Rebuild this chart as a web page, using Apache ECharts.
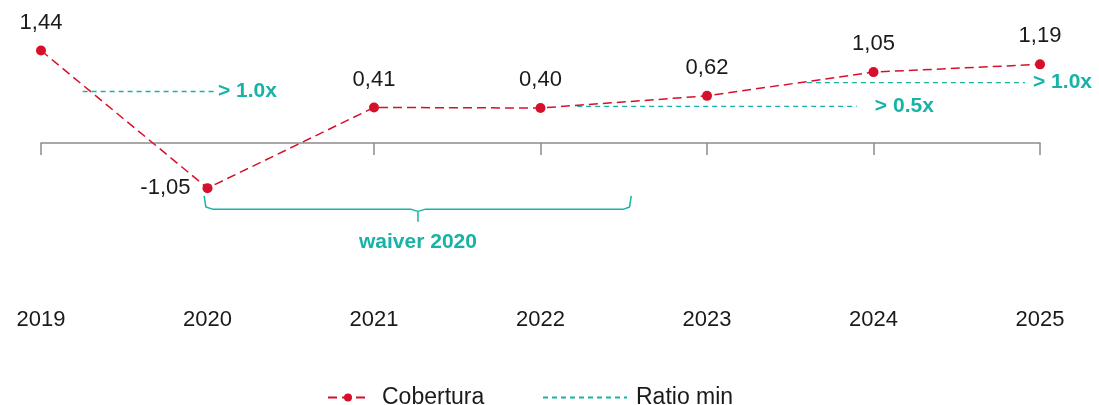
<!DOCTYPE html>
<html>
<head>
<meta charset="utf-8">
<script src="https://cdn.jsdelivr.net/npm/echarts@6/dist/echarts.min.js"></script>
<style>
  html, body { margin: 0; padding: 0; background: #fff; }
  #chart { width: 1099px; height: 405px; }
</style>
</head>
<body>
<div id="chart"></div>
<script>
// Años y cobertura
const years = ["2019", "2020", "2021", "2022", "2023", "2024", "2025"];
const cobertura = [1.44, -1.05, 0.41, 0.40, 0.62, 1.05, 1.19];

// Ratio min: tramos (x en posición de categoría, y en valor)
const ratioSeg1 = [[0.25, 0.70], [1.045, 0.70]];
const ratioSeg2 = [[3.22, 0.43], [4.90, 0.43]];
const ratioSeg3 = [[4.60, 0.86], [5.91, 0.86]];
const ratioLabels = ["> 1.0x", "> 0.5x", "> 1.0x"];

// Llave "waiver 2020"
const braceX = [0.98, 0.99, 1.03, 2.22, 2.264, 2.264, 2.264, 2.31, 3.50, 3.535, 3.545];
const braceY = [-1.19, -1.39, -1.43, -1.43, -1.47, -1.66, -1.47, -1.43, -1.43, -1.39, -1.19];
const braceLabel = "waiver 2020";

const RED = "#d6102b";
const TEAL = "#17b3a7";
const FONT = "Liberation Sans, Arial, sans-serif";

const fmt = (v) => v.toFixed(2).replace(".", ",");

const ratioSeries = [ratioSeg1, ratioSeg2, ratioSeg3].map((seg, i) => ({
  name: "Ratio min",
  type: "line",
  xAxisIndex: 2,
  data: seg,
  symbol: "none",
  lineStyle: { color: TEAL, width: 1.4, type: [5, 4] },
  itemStyle: { color: TEAL },
  endLabel: {
    show: true,
    formatter: ratioLabels[i],
    color: TEAL,
    fontFamily: FONT,
    fontWeight: "bold",
    fontSize: 21,
    distance: [3, 18, 8][i],
  },
  z: 3,
}));

const braceData = braceX.map((x, i) => {
  const item = { value: [x, braceY[i]] };
  if (i === 5) {
    item.label = {
      show: true,
      position: "bottom",
      distance: 10,
      formatter: braceLabel,
      color: TEAL,
      fontFamily: FONT,
      fontWeight: "bold",
      fontSize: 21,
    };
  }
  return item;
});

const chart = echarts.init(document.getElementById("chart"));

chart.setOption({
  animation: false,
  textStyle: { fontFamily: FONT },
  grid: { left: 41, right: 59, top: 19.6, bottom: 109.1 },
  xAxis: [
    {
      type: "category",
      data: years,
      boundaryGap: false,
      axisLine: { show: false },
      axisTick: { show: false },
      axisLabel: { color: "#1a1a1a", fontSize: 22, margin: 13, fontFamily: FONT },
    },
    {
      type: "category",
      data: years,
      boundaryGap: false,
      position: "bottom",
      offset: -153,
      axisLine: { onZero: false, lineStyle: { color: "#8c8c8c", width: 1.5 } },
      axisTick: {
        length: 12,
        lineStyle: { color: "#8c8c8c", width: 1.5 },
        interval: (i) => i !== 1,
      },
      axisLabel: { show: false },
    },
    { type: "value", min: 0, max: 6, show: false },
  ],
  yAxis: { type: "value", min: -3, max: 2, show: false },
  legend: [
    {
      data: ["Cobertura"],
      left: 322,
      top: 381,
      itemWidth: 40,
      itemHeight: 10,
      textStyle: { fontSize: 23, color: "#1a1a1a", fontFamily: FONT, padding: [0, 0, 0, 9] },
    },
    {
      data: ["Ratio min"],
      left: 537,
      top: 381,
      itemWidth: 84,
      itemHeight: 10,
      itemStyle: { opacity: 0 },
      textStyle: { fontSize: 23, color: "#1a1a1a", fontFamily: FONT, padding: [0, 0, 0, 4] },
    },
  ],
  series: [
    {
      name: "Cobertura",
      type: "line",
      data: cobertura.map((v, i) =>
        i === 1 ? { value: v, label: { position: "left", distance: 12 } } : v
      ),
      symbol: "circle",
      symbolSize: 10,
      lineStyle: { color: RED, width: 1.5, type: [9, 5] },
      itemStyle: { color: RED },
      label: {
        show: true,
        position: "top",
        distance: 12,
        color: "#1a1a1a",
        fontSize: 22,
        fontFamily: FONT,
        formatter: (p) => fmt(p.value),
      },
      z: 5,
    },
    ...ratioSeries,
    {
      name: "waiver",
      type: "line",
      xAxisIndex: 2,
      data: braceData,
      symbol: "circle",
      symbolSize: 0,
      showSymbol: true,
      lineStyle: { color: TEAL, width: 1.5 },
      itemStyle: { color: TEAL },
      z: 3,
    },
  ],
});
</script>
</body>
</html>
